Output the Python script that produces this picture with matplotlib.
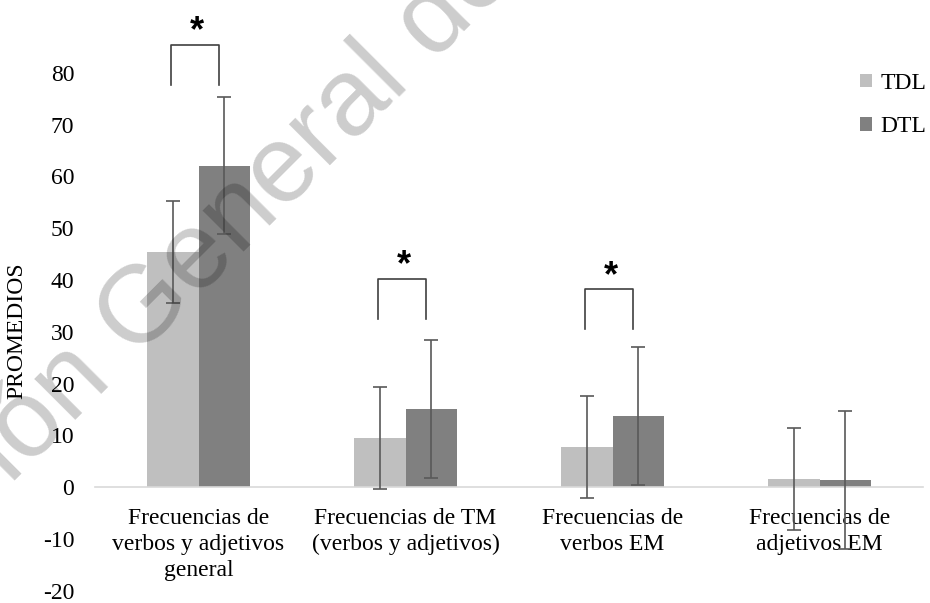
import matplotlib
matplotlib.use("Agg")
import matplotlib.pyplot as plt
import numpy as np

# Promedios y desviaciones por grupo
categorias = ["Frecuencias de\nverbos y adjetivos\ngeneral",
              "Frecuencias de TM\n(verbos y adjetivos)",
              "Frecuencias de\nverbos EM",
              "Frecuencias de\nadjetivos EM"]
tdl_media = [45.4, 9.5, 7.8, 1.6]
tdl_de = [9.8, 9.8, 9.8, 9.8]
dtl_media = [62.1, 15.1, 13.7, 1.4]
dtl_de = [13.3, 13.3, 13.3, 13.4]

# Diferencias significativas: categoria, altura del corchete, fin de las patas
signif_cat = [0, 1, 2]
signif_alto = [85.4, 40.2, 38.2]
signif_patas = [77.7, 32.4, 30.6]

col_tdl = "#bfbfbf"
col_dtl = "#808080"
col_err = "#595959"

plt.rcParams["font.family"] = ["Liberation Serif", "DejaVu Serif"]
plt.rcParams["font.size"] = 17
plt.rcParams["axes.unicode_minus"] = False

fig = plt.figure(figsize=(9.3, 6.03), dpi=100)
ax = fig.add_axes([0.1022, 0.0201, 0.8903, 0.945])

x = np.arange(len(categorias))
w = 0.25
b1 = ax.bar(x - w / 2, tdl_media, w, color=col_tdl, label="TDL", zorder=2)
b2 = ax.bar(x + w / 2, dtl_media, w, color=col_dtl, label="DTL", zorder=2)
ax.errorbar(x - w / 2, tdl_media, yerr=tdl_de, fmt="none", ecolor=col_err,
            elinewidth=1.2, capsize=4.7, capthick=1.2, zorder=3)
ax.errorbar(x + w / 2, dtl_media, yerr=dtl_de, fmt="none", ecolor=col_err,
            elinewidth=1.2, capsize=4.7, capthick=1.2, zorder=3)

# corchetes con asterisco
for c, alto, patas in zip(signif_cat, signif_alto, signif_patas):
    xl, xr = c - 0.133, c + 0.097
    ax.plot([xl, xl, xr, xr], [patas, alto, alto, patas], color="#404040",
            lw=1.2, clip_on=False, zorder=3)
    ax.text((xl + xr) / 2 + 0.01, alto + 2.5, "*", ha="center", va="center",
            fontsize=26, fontweight="bold", family="Liberation Sans",
            clip_on=False)

ax.set_xlim(-0.5, len(categorias) - 0.5)
ax.set_ylim(-20, 90)
ax.set_yticks(range(-20, 81, 10))
ax.set_xticks(x)
ax.set_xticklabels(categorias)

for s in ["top", "right", "left"]:
    ax.spines[s].set_visible(False)
ax.spines["bottom"].set_position(("data", 0))
ax.spines["bottom"].set_color("#d9d9d9")
ax.spines["bottom"].set_linewidth(1.2)
ax.tick_params(axis="both", length=0)
ax.tick_params(axis="y", pad=15)
ax.tick_params(axis="x", pad=15)
# set_position recrea los ticks, por eso el interlineado va despues
for lbl in ax.get_xticklabels():
    lbl.set_linespacing(1.32)

fig.text(17 / 930, 1 - 331 / 603, "PROMEDIOS", rotation=90,
         ha="center", va="center")

fig.legend(handles=[b1, b2], loc="upper left",
           bbox_to_anchor=(860 / 930, 1 - 73 / 603), frameon=False,
           handlelength=0.5, handleheight=0.5, handletextpad=0.35,
           labelspacing=0.95, borderpad=0, borderaxespad=0)

# marca de agua
fig.text(333 / 930, 1 - 123 / 603, "Dirección General de Bibliotecas",
         rotation=45, ha="center", va="center", fontsize=79,
         family="Liberation Sans", color="black", alpha=0.2, zorder=10)

fig.savefig("out.png", dpi=100)
